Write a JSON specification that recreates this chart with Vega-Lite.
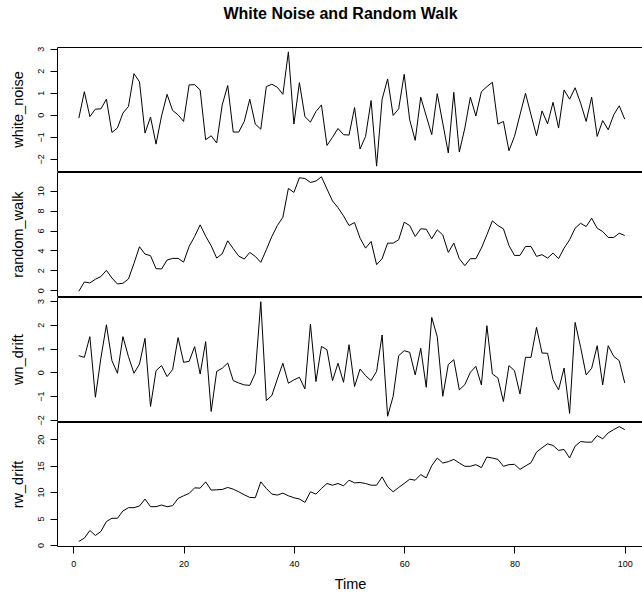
{
  "$schema": "https://vega.github.io/schema/vega-lite/v6.json",
  "padding": {"left": 9, "top": 5, "right": 0, "bottom": 0},
  "bounds": "flush",
  "spacing": 1,
  "title": {"text": "White Noise and Random Walk", "fontSize": 16, "fontWeight": "bold", "font": "Liberation Sans", "color": "black", "anchor": "middle", "offset": 24, "dx": 14},
  "data": {"values": [
    {"t":1,"white_noise":-0.15,"random_walk":-0.1,"wn_drift":0.7,"rw_drift":0.69},
    {"t":2,"white_noise":1.05,"random_walk":0.83,"wn_drift":0.63,"rw_drift":1.31},
    {"t":3,"white_noise":-0.08,"random_walk":0.73,"wn_drift":1.5,"rw_drift":2.75},
    {"t":4,"white_noise":0.26,"random_walk":1.1,"wn_drift":-1.05,"rw_drift":1.81},
    {"t":5,"white_noise":0.27,"random_walk":1.37,"wn_drift":0.6,"rw_drift":2.56},
    {"t":6,"white_noise":0.71,"random_walk":2.0,"wn_drift":2.0,"rw_drift":4.44},
    {"t":7,"white_noise":-0.8,"random_walk":1.23,"wn_drift":0.49,"rw_drift":5.06},
    {"t":8,"white_noise":-0.6,"random_walk":0.63,"wn_drift":-0.04,"rw_drift":5.06},
    {"t":9,"white_noise":0.08,"random_walk":0.7,"wn_drift":1.5,"rw_drift":6.44},
    {"t":10,"white_noise":0.38,"random_walk":1.13,"wn_drift":0.66,"rw_drift":7.06},
    {"t":11,"white_noise":1.87,"random_walk":2.7,"wn_drift":-0.04,"rw_drift":7.06},
    {"t":12,"white_noise":1.5,"random_walk":4.37,"wn_drift":0.35,"rw_drift":7.38},
    {"t":13,"white_noise":-0.83,"random_walk":3.63,"wn_drift":1.43,"rw_drift":8.69},
    {"t":14,"white_noise":-0.1,"random_walk":3.47,"wn_drift":-1.44,"rw_drift":7.25},
    {"t":15,"white_noise":-1.33,"random_walk":2.17,"wn_drift":0.07,"rw_drift":7.25},
    {"t":16,"white_noise":-0.05,"random_walk":2.13,"wn_drift":0.28,"rw_drift":7.56},
    {"t":17,"white_noise":0.93,"random_walk":3.03,"wn_drift":-0.18,"rw_drift":7.25},
    {"t":18,"white_noise":0.2,"random_walk":3.2,"wn_drift":0.11,"rw_drift":7.44},
    {"t":19,"white_noise":0.0,"random_walk":3.2,"wn_drift":1.46,"rw_drift":8.81},
    {"t":20,"white_noise":-0.3,"random_walk":2.83,"wn_drift":0.42,"rw_drift":9.31},
    {"t":21,"white_noise":1.36,"random_walk":4.4,"wn_drift":0.46,"rw_drift":9.75},
    {"t":22,"white_noise":1.37,"random_walk":5.4,"wn_drift":1.08,"rw_drift":10.81},
    {"t":23,"white_noise":1.13,"random_walk":6.57,"wn_drift":-0.07,"rw_drift":10.75},
    {"t":24,"white_noise":-1.13,"random_walk":5.43,"wn_drift":1.29,"rw_drift":11.94},
    {"t":25,"white_noise":-0.95,"random_walk":4.47,"wn_drift":-1.65,"rw_drift":10.38},
    {"t":26,"white_noise":-1.28,"random_walk":3.23,"wn_drift":0.04,"rw_drift":10.44},
    {"t":27,"white_noise":0.45,"random_walk":3.67,"wn_drift":0.17,"rw_drift":10.5},
    {"t":28,"white_noise":1.33,"random_walk":4.97,"wn_drift":0.39,"rw_drift":10.88},
    {"t":29,"white_noise":-0.78,"random_walk":4.17,"wn_drift":-0.35,"rw_drift":10.56},
    {"t":30,"white_noise":-0.78,"random_walk":3.43,"wn_drift":-0.45,"rw_drift":10.06},
    {"t":31,"white_noise":-0.3,"random_walk":3.13,"wn_drift":-0.53,"rw_drift":9.5},
    {"t":32,"white_noise":0.71,"random_walk":3.8,"wn_drift":-0.55,"rw_drift":9.0},
    {"t":33,"white_noise":-0.42,"random_walk":3.4,"wn_drift":-0.04,"rw_drift":8.94},
    {"t":34,"white_noise":-0.65,"random_walk":2.8,"wn_drift":2.97,"rw_drift":11.94},
    {"t":35,"white_noise":1.28,"random_walk":4.07,"wn_drift":-1.19,"rw_drift":10.69},
    {"t":36,"white_noise":1.39,"random_walk":5.4,"wn_drift":-0.98,"rw_drift":9.63},
    {"t":37,"white_noise":1.25,"random_walk":6.5,"wn_drift":-0.28,"rw_drift":9.44},
    {"t":38,"white_noise":0.93,"random_walk":7.33,"wn_drift":0.38,"rw_drift":9.81},
    {"t":39,"white_noise":2.86,"random_walk":10.23,"wn_drift":-0.46,"rw_drift":9.31},
    {"t":40,"white_noise":-0.42,"random_walk":9.83,"wn_drift":-0.32,"rw_drift":8.94},
    {"t":41,"white_noise":1.46,"random_walk":11.3,"wn_drift":-0.21,"rw_drift":8.69},
    {"t":42,"white_noise":-0.08,"random_walk":11.23,"wn_drift":-0.7,"rw_drift":8.06},
    {"t":43,"white_noise":-0.33,"random_walk":10.83,"wn_drift":2.03,"rw_drift":10.06},
    {"t":44,"white_noise":0.15,"random_walk":10.97,"wn_drift":-0.39,"rw_drift":9.63},
    {"t":45,"white_noise":0.45,"random_walk":11.4,"wn_drift":1.09,"rw_drift":10.69},
    {"t":46,"white_noise":-1.39,"random_walk":10.17,"wn_drift":0.95,"rw_drift":11.63},
    {"t":47,"white_noise":-1.02,"random_walk":8.97,"wn_drift":-0.35,"rw_drift":11.31},
    {"t":48,"white_noise":-0.62,"random_walk":8.3,"wn_drift":0.38,"rw_drift":11.63},
    {"t":49,"white_noise":-0.9,"random_walk":7.47,"wn_drift":-0.42,"rw_drift":11.19},
    {"t":50,"white_noise":-0.92,"random_walk":6.5,"wn_drift":1.16,"rw_drift":12.25},
    {"t":51,"white_noise":0.33,"random_walk":6.8,"wn_drift":-0.6,"rw_drift":11.75},
    {"t":52,"white_noise":-1.55,"random_walk":5.23,"wn_drift":0.14,"rw_drift":11.81},
    {"t":53,"white_noise":-0.98,"random_walk":4.23,"wn_drift":-0.14,"rw_drift":11.63},
    {"t":54,"white_noise":0.65,"random_walk":4.9,"wn_drift":-0.35,"rw_drift":11.31},
    {"t":55,"white_noise":-2.33,"random_walk":2.57,"wn_drift":0.04,"rw_drift":11.31},
    {"t":56,"white_noise":0.71,"random_walk":3.17,"wn_drift":1.57,"rw_drift":12.88},
    {"t":57,"white_noise":1.63,"random_walk":4.73,"wn_drift":-1.85,"rw_drift":11.0},
    {"t":58,"white_noise":-0.03,"random_walk":4.73,"wn_drift":-1.01,"rw_drift":10.06},
    {"t":59,"white_noise":0.27,"random_walk":5.07,"wn_drift":0.7,"rw_drift":10.88},
    {"t":60,"white_noise":1.84,"random_walk":6.83,"wn_drift":0.91,"rw_drift":11.63},
    {"t":61,"white_noise":-0.23,"random_walk":6.5,"wn_drift":0.84,"rw_drift":12.44},
    {"t":62,"white_noise":-1.16,"random_walk":5.4,"wn_drift":-0.11,"rw_drift":12.25},
    {"t":63,"white_noise":0.8,"random_walk":6.17,"wn_drift":1.01,"rw_drift":13.31},
    {"t":64,"white_noise":-0.05,"random_walk":6.13,"wn_drift":-0.63,"rw_drift":12.69},
    {"t":65,"white_noise":-0.9,"random_walk":5.17,"wn_drift":2.31,"rw_drift":15.0},
    {"t":66,"white_noise":0.96,"random_walk":6.07,"wn_drift":1.5,"rw_drift":16.44},
    {"t":67,"white_noise":-0.38,"random_walk":5.55,"wn_drift":-1.01,"rw_drift":15.5},
    {"t":68,"white_noise":-1.73,"random_walk":3.8,"wn_drift":0.33,"rw_drift":15.75},
    {"t":69,"white_noise":1.02,"random_walk":4.73,"wn_drift":0.53,"rw_drift":16.19},
    {"t":70,"white_noise":-1.69,"random_walk":3.17,"wn_drift":-0.74,"rw_drift":15.5},
    {"t":71,"white_noise":-0.6,"random_walk":2.47,"wn_drift":-0.52,"rw_drift":14.88},
    {"t":72,"white_noise":0.8,"random_walk":3.17,"wn_drift":0.0,"rw_drift":14.88},
    {"t":73,"white_noise":-0.05,"random_walk":3.17,"wn_drift":0.25,"rw_drift":15.19},
    {"t":74,"white_noise":1.05,"random_walk":4.23,"wn_drift":-0.53,"rw_drift":14.63},
    {"t":75,"white_noise":1.28,"random_walk":5.57,"wn_drift":1.96,"rw_drift":16.63},
    {"t":76,"white_noise":1.48,"random_walk":6.97,"wn_drift":-0.07,"rw_drift":16.44},
    {"t":77,"white_noise":-0.42,"random_walk":6.5,"wn_drift":-0.24,"rw_drift":16.19},
    {"t":78,"white_noise":-0.3,"random_walk":6.17,"wn_drift":-1.23,"rw_drift":14.88},
    {"t":79,"white_noise":-1.63,"random_walk":4.5,"wn_drift":0.28,"rw_drift":15.19},
    {"t":80,"white_noise":-0.98,"random_walk":3.5,"wn_drift":0.07,"rw_drift":15.25},
    {"t":81,"white_noise":0.0,"random_walk":3.5,"wn_drift":-0.91,"rw_drift":14.31},
    {"t":82,"white_noise":0.98,"random_walk":4.4,"wn_drift":0.63,"rw_drift":14.94},
    {"t":83,"white_noise":0.0,"random_walk":4.4,"wn_drift":0.63,"rw_drift":15.56},
    {"t":84,"white_noise":-0.95,"random_walk":3.4,"wn_drift":1.89,"rw_drift":17.56},
    {"t":85,"white_noise":0.18,"random_walk":3.57,"wn_drift":0.81,"rw_drift":18.38},
    {"t":86,"white_noise":-0.41,"random_walk":3.23,"wn_drift":0.8,"rw_drift":19.13},
    {"t":87,"white_noise":0.57,"random_walk":3.73,"wn_drift":-0.31,"rw_drift":18.81},
    {"t":88,"white_noise":-0.6,"random_walk":3.17,"wn_drift":-0.74,"rw_drift":17.88},
    {"t":89,"white_noise":1.13,"random_walk":4.23,"wn_drift":0.18,"rw_drift":18.06},
    {"t":90,"white_noise":0.71,"random_walk":5.07,"wn_drift":-1.73,"rw_drift":16.44},
    {"t":91,"white_noise":1.23,"random_walk":6.23,"wn_drift":2.1,"rw_drift":18.69},
    {"t":92,"white_noise":0.53,"random_walk":6.73,"wn_drift":1.05,"rw_drift":19.56},
    {"t":93,"white_noise":-0.3,"random_walk":6.4,"wn_drift":-0.11,"rw_drift":19.44},
    {"t":94,"white_noise":0.8,"random_walk":7.23,"wn_drift":0.17,"rw_drift":19.44},
    {"t":95,"white_noise":-0.98,"random_walk":6.23,"wn_drift":1.12,"rw_drift":20.69},
    {"t":96,"white_noise":-0.26,"random_walk":5.9,"wn_drift":-0.53,"rw_drift":20.06},
    {"t":97,"white_noise":-0.68,"random_walk":5.3,"wn_drift":1.12,"rw_drift":21.19},
    {"t":98,"white_noise":0.0,"random_walk":5.3,"wn_drift":0.67,"rw_drift":21.81},
    {"t":99,"white_noise":0.41,"random_walk":5.73,"wn_drift":0.49,"rw_drift":22.38},
    {"t":100,"white_noise":-0.2,"random_walk":5.5,"wn_drift":-0.45,"rw_drift":21.81}
  ]},
  "vconcat": [
    {
      "width": 586, "height": 124,
      "mark": {"type": "line", "color": "black", "strokeWidth": 1},
      "encoding": {
        "x": {"field": "t", "type": "quantitative", "scale": {"domain": [-2.96, 103.31], "nice": false, "zero": false}, "axis": null},
        "y": {"field": "white_noise", "type": "quantitative", "title": "white_noise", "scale": {"domain": [-2.55, 3.08], "nice": false, "zero": false}, "axis": {"values": [-2, -1, 0, 1, 2, 3]}}
      }
    },
    {
      "width": 586, "height": 124,
      "mark": {"type": "line", "color": "black", "strokeWidth": 1},
      "encoding": {
        "x": {"field": "t", "type": "quantitative", "scale": {"domain": [-2.96, 103.31], "nice": false, "zero": false}, "axis": null},
        "y": {"field": "random_walk", "type": "quantitative", "title": "random_walk", "scale": {"domain": [-0.58, 11.88], "nice": false, "zero": false}, "axis": {"values": [0, 2, 4, 6, 8, 10]}}
      }
    },
    {
      "width": 586, "height": 124,
      "mark": {"type": "line", "color": "black", "strokeWidth": 1},
      "encoding": {
        "x": {"field": "t", "type": "quantitative", "scale": {"domain": [-2.96, 103.31], "nice": false, "zero": false}, "axis": null},
        "y": {"field": "wn_drift", "type": "quantitative", "title": "wn_drift", "scale": {"domain": [-2.05, 3.17], "nice": false, "zero": false}, "axis": {"values": [-2, -1, 0, 1, 2, 3]}}
      }
    },
    {
      "width": 586, "height": 124,
      "mark": {"type": "line", "color": "black", "strokeWidth": 1},
      "encoding": {
        "x": {"field": "t", "type": "quantitative", "title": "Time", "scale": {"domain": [-2.96, 103.31], "nice": false, "zero": false}, "axis": {"values": [0, 20, 40, 60, 80, 100], "labelPadding": 6, "titlePadding": 9}},
        "y": {"field": "rw_drift", "type": "quantitative", "title": "rw_drift", "scale": {"domain": [-0.18, 23.25], "nice": false, "zero": false}, "axis": {"values": [0, 5, 10, 15, 20]}}
      }
    }
  ],
  "config": {
    "view": {"stroke": "black", "strokeWidth": 1},
    "concat": {"spacing": 1},
    "axis": {"domain": false, "grid": false, "ticks": true, "tickColor": "black", "tickSize": 7, "labelFont": "Liberation Sans", "labelFontSize": 9, "labelColor": "black", "titleFont": "Liberation Sans", "titleFontSize": 14.5, "titleFontWeight": "normal", "titleColor": "black"},
    "axisY": {"labelAngle": 270, "labelAlign": "center", "labelBaseline": "bottom", "labelPadding": 5, "titlePadding": 11}
  }
}
